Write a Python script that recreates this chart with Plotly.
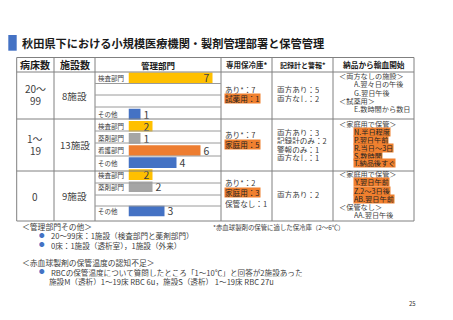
import plotly.graph_objects as go

W, H = 453, 320
FONT = "Noto Sans CJK JP"
TXT = "#404040"


def px(x):
    return x / W


def py(y):
    return 1 - y / H


# ---------------- data ----------------
title = "秋田県下における小規模医療機関・製剤管理部署と保管管理"
headers = ["病床数", "施設数", "管理部門", "専用保冷庫*", "記録計と警報*", "納品から輸血開始"]
bed_groups = [["20～", "99"], ["1～", "19"], ["0"]]
facility_counts = ["8施設", "13施設", "9施設"]
dept_names = [
    ["検査部門", "", "", "その他"],
    ["検査部門", "薬剤部門", "看護部門", "その他"],
    ["検査部門", "薬剤部門", "", "その他"],
]
dept_values = [
    [7, None, None, 1],
    [2, 1, 6, 4],
    [2, 2, None, 3],
]
dept_colors = {"検査部門": "#FFC000", "薬剤部門": "#A5A5A5", "看護部門": "#ED7D31", "その他": "#4472C4"}

storage_lines = [
    [("あり*：7", False), ("試薬用：1", True)],
    [("あり*：7", False), ("家庭用：5", True)],
    [("あり*：2", False), ("家庭用：3", True), ("保管なし：1", False)],
]
recorder_lines = [
    ["両方あり：5", "両方なし：2"],
    ["両方あり：3", "記録計のみ：2", "警報のみ：1", "両方なし：1"],
    ["両方あり：2"],
]
delivery_lines = [
    [("＜両方なしの施設＞", 0, False), ("A.翌々日の午後", 1, False), ("G.翌日午後", 1, False),
     ("＜試薬用＞", 0, False), ("E.数時間から数日", 1, False)],
    [("＜家庭用で保管＞", 0, False), ("N.半日程度", 1, True), ("P.翌日午前", 1, True),
     ("R.当日～3日", 1, True), ("S.数時間", 1, True), ("T.納品後すぐ", 1, True)],
    [("＜家庭用で保管＞", 0, False), ("Y.翌日午前", 1, True), ("Z.2～3日後", 1, True),
     ("AB.翌日午前", 1, True), ("＜保管なし＞", 0, False), ("AA.翌日午後", 1, False)],
]
footnote = "*赤血球製剤の保管に適した保冷庫（2～6℃）"
note1_head = "＜管理部門その他＞"
note1_items = ["20～99床：1施設（検査部門と薬剤部門）", "0床：1施設（透析室），1施設（外来）"]
note2_head = "＜赤血球製剤の保管温度の認知不足＞"
note2_items = ["RBCの保管温度について質問したところ「1～10℃」と回答が2施設あった"]
note2_detail = "施設M（透析）1～19床 RBC 6u，施設S（透析） 1～19床 RBC 27u"
page_no = "25"

# ---------------- layout geometry ----------------
col_x = [16.7, 54, 95, 221, 272, 333, 414]
row_y = [57.5, 72, 119, 171, 221]
sub_lines = [83.5, 95, 107, 131, 143, 156, 183, 195, 206]
storage_y = [[89.3, 98.5], [134, 144.3], [182.7, 192.7, 203.3]]
recorder_y0 = [89.3, 131.7, 194]
recorder_dy = 8.4
delivery_y0 = [76, 124.3, 174.3]
delivery_dy = [8.25, 7.8, 8.15]

fig = go.Figure()

# bars
for dept, color in dept_colors.items():
    ys, xs = [], []
    for g, names in enumerate(dept_names):
        for i, n in enumerate(names):
            if n == dept and dept_values[g][i] is not None:
                ys.append(g * 4 + i)
                xs.append(dept_values[g][i])
    inside = dept == "検査部門"
    fig.add_trace(go.Bar(
        x=xs, y=ys, orientation="h", width=0.88,
        marker=dict(color=color, line=dict(width=0)),
        text=[str(v) for v in xs],
        textposition="inside" if inside else "outside",
        insidetextanchor="end", textangle=0,
        constraintext="none",
        textfont=dict(family=FONT, size=10.5, color=TXT),
        cliponaxis=False, hoverinfo="skip", showlegend=False,
    ))

fig.update_layout(
    width=W, height=H, autosize=False,
    margin=dict(l=0, r=0, t=0, b=0),
    paper_bgcolor="white", plot_bgcolor="rgba(0,0,0,0)",
    barmode="overlay", showlegend=False,
    xaxis=dict(domain=[px(128.5), px(221)], range=[0, 92.5 / 12], visible=False, fixedrange=True),
    yaxis=dict(domain=[py(217.05), py(71.75)], range=[11.5, -0.5], visible=False, fixedrange=True),
)

shapes = []
# title marker
shapes.append(dict(type="rect", xref="paper", yref="paper", x0=px(8.3), x1=px(16.7),
                   y0=py(50.7), y1=py(35), fillcolor="#4472C4", line=dict(width=0), layer="below"))
LC = "#808080"
for x in col_x:
    shapes.append(dict(type="line", xref="paper", yref="paper", x0=px(x), x1=px(x),
                       y0=py(row_y[0]), y1=py(row_y[-1]), line=dict(color=LC, width=1)))
for y in row_y:
    shapes.append(dict(type="line", xref="paper", yref="paper", x0=px(col_x[0]), x1=px(col_x[-1]),
                       y0=py(y), y1=py(y), line=dict(color=LC, width=1)))
for y in sub_lines:
    shapes.append(dict(type="line", xref="paper", yref="paper", x0=px(95), x1=px(221),
                       y0=py(y), y1=py(y), line=dict(color="#9a9a9a", width=1)))
fig.update_layout(shapes=shapes)

ann = []


def T(x, y, text, size, color=TXT, anchor="left", bg=None, bold=False, yref="paper", h=None):
    a = dict(x=px(x), y=(py(y) if yref == "paper" else y), xref="paper", yref=yref,
             text=("<b>%s</b>" % text if bold else text), showarrow=False,
             xanchor=anchor, yanchor="middle",
             font=dict(family=FONT, size=size, color=color), borderpad=0)
    if h is not None:
        a["height"] = h
    if bg:
        a["bgcolor"] = bg
    ann.append(a)


T(21, 43, title, 11.2, color="#1a1a1a", bold=True)

# headers
hsizes = [10, 10, 8.5, 7.5, 7, 7.7]
for j, h in enumerate(headers):
    T((col_x[j] + col_x[j + 1]) / 2, 64.5, h, hsizes[j], color="#1a1a1a", anchor="center", bold=True)

# bed groups and facility counts
for g in range(3):
    yc = (row_y[g + 1] + row_y[g + 2]) / 2
    lines = bed_groups[g]
    if len(lines) == 2:
        T((col_x[0] + col_x[1]) / 2, yc - 7, lines[0], 10, anchor="center", h=11)
        T((col_x[0] + col_x[1]) / 2, yc + 5, lines[1], 10, anchor="center", h=11)
    else:
        T((col_x[0] + col_x[1]) / 2, yc, lines[0], 10, anchor="center")
    T((col_x[1] + col_x[2]) / 2, yc, facility_counts[g], 9.6, anchor="center")

# department labels
for g, names in enumerate(dept_names):
    for i, n in enumerate(names):
        if n:
            T(96.5, g * 4 + i, n, 6.5, yref="y", h=8)

# storage column
for g, lines in enumerate(storage_lines):
    for k, (t, hl) in enumerate(lines):
        T(223.5, storage_y[g][k], t, 7.6, bg="#F0802F" if hl else None,
          color="#222222" if hl else TXT, h=9)

# recorder column
for g, lines in enumerate(recorder_lines):
    for k, t in enumerate(lines):
        T(275.5, recorder_y0[g] + k * recorder_dy, t, 7.6, h=8)

# delivery column
for g, lines in enumerate(delivery_lines):
    for k, (t, ind, hl) in enumerate(lines):
        T(338 if ind == 0 else 352.5, delivery_y0[g] + k * delivery_dy[g], t, 7.2,
          bg="#F0802F" if hl else None, color="#222222" if hl else TXT, h=7.8)

# notes
T(211.5, 226.7, footnote, 6.4, h=8)
T(20.5, 226.7, note1_head, 7.8, h=9)
for k, t in enumerate(note1_items):
    T(37.5, 235.7 + k * 9.3, "●", 5.5, color="#4472C4", h=8)
    T(49.5, 235.7 + k * 9.3, t, 7.6, h=9)
T(20.5, 262.7, note2_head, 7.8, h=9)
for k, t in enumerate(note2_items):
    T(37.5, 272.3 + k * 9, "●", 5.5, color="#4472C4", h=8)
    T(49.5, 272.3 + k * 9, t, 7.6, h=8.5)
T(48, 281.3, note2_detail, 7.6, h=8.5)
T(408, 303.5, page_no, 6, color="#333333")

fig.update_layout(annotations=ann)
fig.write_html("out.html")
